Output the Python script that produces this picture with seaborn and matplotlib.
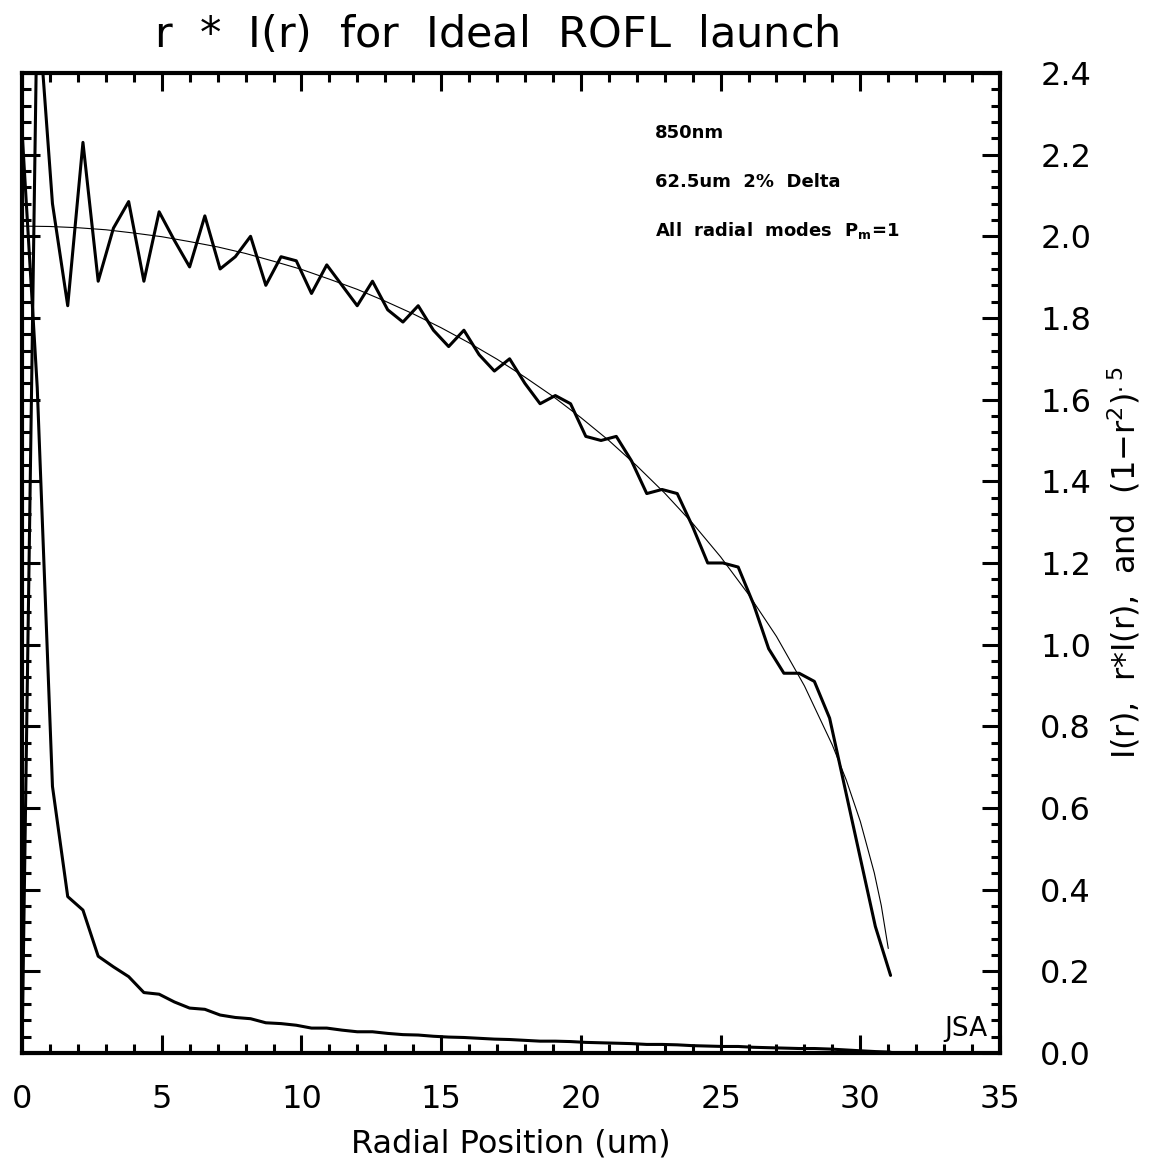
import numpy as np
import matplotlib.pyplot as plt
import seaborn as sns
from matplotlib.ticker import MultipleLocator

# radial sample positions (um)
r = [0.0, 0.545, 1.09, 1.636, 2.181, 2.726, 3.272, 3.817, 4.362, 4.907,
     5.453, 5.998, 6.543, 7.089, 7.634, 8.179, 8.725, 9.27, 9.815, 10.36,
     10.906, 11.451, 11.996, 12.542, 13.087, 13.632, 14.178, 14.723, 15.268, 15.814,
     16.359, 16.904, 17.449, 17.995, 18.54, 19.085, 19.631, 20.176, 20.721, 21.267,
     21.812, 22.357, 22.902, 23.448, 23.993, 24.538, 25.084, 25.629, 26.174, 26.72,
     27.265, 27.81, 28.355, 28.901, 29.446, 29.991, 30.537, 31.082]

# r * I(r)
r_I = [0.0, 2.59, 2.08, 1.83, 2.23, 1.89, 2.02, 2.085, 1.89, 2.06,
       1.99, 1.925, 2.05, 1.92, 1.95, 2.00, 1.88, 1.95, 1.94, 1.86,
       1.93, 1.88, 1.83, 1.89, 1.82, 1.79, 1.83, 1.77, 1.73, 1.77,
       1.71, 1.67, 1.70, 1.64, 1.59, 1.61, 1.59, 1.51, 1.50, 1.51,
       1.45, 1.37, 1.38, 1.37, 1.29, 1.20, 1.20, 1.19, 1.10, 0.99,
       0.93, 0.93, 0.91, 0.82, 0.65, 0.48, 0.31, 0.19]

# I(r)
I_r = [2.26, 1.63, 0.653, 0.383, 0.350, 0.237, 0.211, 0.187, 0.148, 0.144,
       0.125, 0.110, 0.107, 0.093, 0.087, 0.084, 0.074, 0.072, 0.068, 0.061,
       0.061, 0.056, 0.052, 0.052, 0.048, 0.045, 0.044, 0.041, 0.039, 0.038,
       0.036, 0.034, 0.033, 0.031, 0.029, 0.029, 0.028, 0.026, 0.025, 0.024,
       0.023, 0.021, 0.021, 0.020, 0.018, 0.017, 0.016, 0.016, 0.014, 0.013,
       0.012, 0.011, 0.011, 0.0097, 0.0076, 0.0055, 0.0035, 0.0021]

# smooth (1-r^2)^.5 reference curve
r_fit = [0, 1, 2, 3, 4, 5, 6, 7, 8, 9, 10, 11, 12, 13, 14, 15, 16, 17, 18, 19,
         20, 21, 22, 23, 24, 25, 26, 27, 28, 29, 29.5, 30, 30.5, 30.75, 31]
fit = [2.025, 2.024, 2.021, 2.016, 2.008, 1.999, 1.987, 1.974, 1.958, 1.939,
       1.919, 1.895, 1.870, 1.841, 1.810, 1.776, 1.739, 1.699, 1.655, 1.608,
       1.556, 1.500, 1.438, 1.371, 1.297, 1.215, 1.123, 1.020, 0.899, 0.754,
       0.668, 0.567, 0.441, 0.361, 0.256]

sns.set_style('white')
plt.rcParams['font.family'] = ['DejaVu Sans']
plt.rcParams['text.color'] = 'black'
plt.rcParams['axes.labelcolor'] = 'black'
plt.rcParams['xtick.color'] = 'black'
plt.rcParams['ytick.color'] = 'black'

fig = plt.figure(figsize=(11.52, 11.73), dpi=100)
ax = fig.add_axes([0.0191, 0.1023, 0.8490, 0.8355])

sns.lineplot(x=r, y=r_I, ax=ax, color='black', linewidth=2.2, sort=False)
sns.lineplot(x=r, y=I_r, ax=ax, color='black', linewidth=2.2, sort=False)
sns.lineplot(x=r_fit, y=fit, ax=ax, color='black', linewidth=0.8, sort=False)

ax.set_xlim(0, 35)
ax.set_ylim(0, 2.4)
ax.xaxis.set_major_locator(MultipleLocator(5))
ax.xaxis.set_minor_locator(MultipleLocator(1))
ax.yaxis.set_major_locator(MultipleLocator(0.2))
ax.yaxis.set_minor_locator(MultipleLocator(0.04))
ax.set_yticks(np.arange(0, 2.41, 0.2))
ax.set_yticklabels(['%.1f' % v for v in np.arange(0, 2.41, 0.2)])

ax.tick_params(which='both', direction='in', top=True, bottom=True,
               left=True, right=True, labelleft=False, labelright=True,
               color='black', width=2.2, labelcolor='black')
ax.tick_params(which='major', length=13)
ax.tick_params(which='minor', length=6.5)
ax.tick_params(axis='y', which='major', pad=29, labelsize=23)
ax.tick_params(axis='x', which='major', pad=22, labelsize=23)

for s in ax.spines.values():
    s.set_linewidth(3)
    s.set_color('black')

ax.set_title('r  $*$  I(r)  for  Ideal  ROFL  launch', fontsize=31, pad=19,
             color='black', x=0.485)
ax.set_xlabel('Radial Position (um)', fontsize=23, labelpad=10)
ax.yaxis.set_label_position('right')
ax.set_ylabel(r'I(r),  r$*$I(r),  and  (1$-$r$^2$)$^{.5}$', fontsize=23,
              rotation=90, labelpad=10)

ax.text(22.65, 2.253, '850nm', fontsize=13, fontweight='bold', va='center')
ax.text(22.65, 2.133, '62.5um  2%  Delta', fontsize=13, fontweight='bold', va='center')
ax.text(22.65, 2.015, r'All  radial  modes  P$_\mathbf{m}$=1', fontsize=13,
        fontweight='bold', va='center')
ax.text(34.55, 0.06, 'JSA', fontsize=19, ha='right', va='center')

fig.savefig('out.png', dpi=100)
